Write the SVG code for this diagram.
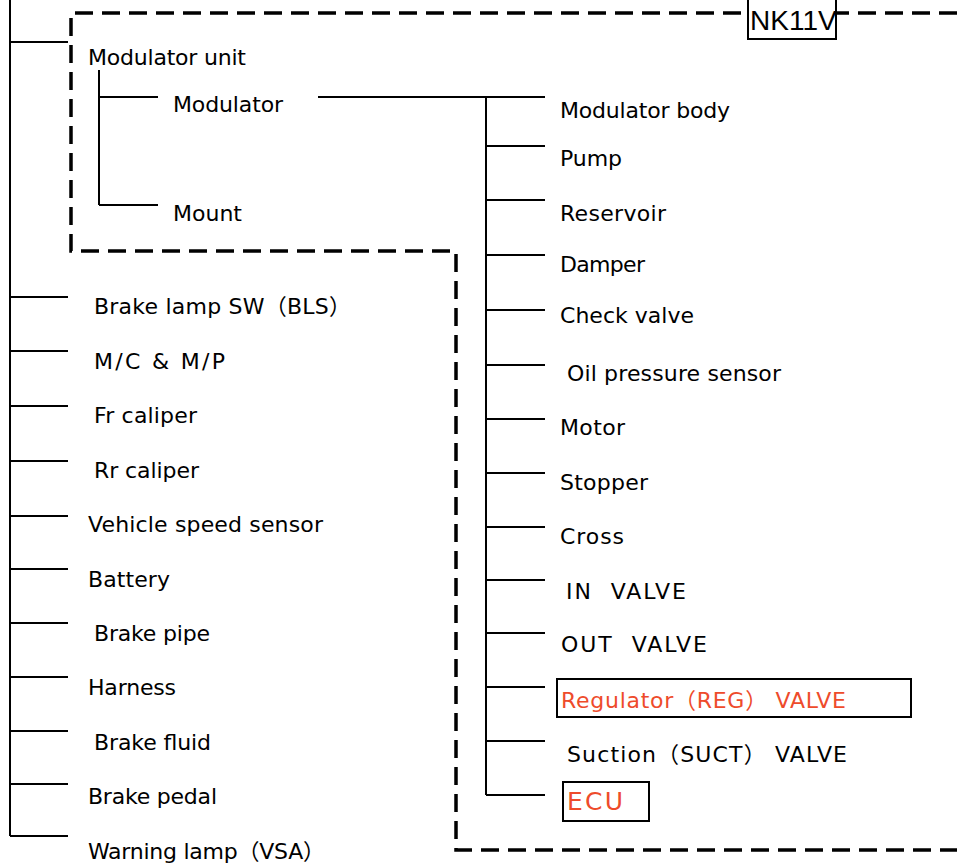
<svg xmlns="http://www.w3.org/2000/svg" width="957" height="865" viewBox="0 0 957 865">
<style>
.t{font-family:"DejaVu Sans","Noto Sans CJK JP",sans-serif;font-size:22px;fill:#000}
.red{fill:#EE4B2B}
.ln{stroke:#000;stroke-width:2;fill:none}
.dash{stroke:#000;stroke-width:3.5;fill:none;stroke-dasharray:18 9}
.box{stroke:#000;stroke-width:2;fill:#fff}
</style>
<rect width="957" height="865" fill="#fff"/>
<g id="boundary">
<path class="dash" d="M957,13 H71 V251 H456 V850 H957"/>
</g>
<g id="nk11v">
<rect class="box" x="748" y="-2" width="88" height="41"/>
<text x="750" y="30" style="font-family:'Liberation Sans',sans-serif;font-size:28px">NK11V</text>
</g>
<g id="connectors">
<path class="ln" d="M10,0 V836"/>
<path class="ln" d="M10,42 H68"/>
<path class="ln" d="M10,297 H68 M10,351 H68 M10,406 H68 M10,461 H68 M10,516 H68 M10,569 H68 M10,623 H68 M10,677 H68 M10,731 H68 M10,784 H68 M10,836 H68"/>
<path class="ln" d="M99,70 V205 M99,97 H158 M99,205 H158"/>
<path class="ln" d="M318,97 H545 M486,97 V795"/>
<path class="ln" d="M486,146 H545 M486,200 H545 M486,255 H545 M486,310 H545 M486,365 H545 M486,419 H545 M486,473 H545 M486,527 H545 M486,580 H545 M486,633 H545 M486,687 H545 M486,741 H545 M486,795 H545"/>
</g>
<g id="modulator-unit"><text class="t" x="88" y="65" textLength="158">Modulator unit</text></g>
<g id="modulator"><text class="t" x="173" y="112" textLength="110">Modulator</text></g>
<g id="mount"><text class="t" x="173" y="221" textLength="69">Mount</text></g>
<g id="modulator-body"><text class="t" x="560" y="118" textLength="170">Modulator body</text></g>
<g id="pump"><text class="t" x="560" y="166" textLength="62">Pump</text></g>
<g id="reservoir"><text class="t" x="560" y="221" textLength="106">Reservoir</text></g>
<g id="damper"><text class="t" x="560" y="272" textLength="85">Damper</text></g>
<g id="check-valve"><text class="t" x="560" y="323" textLength="134">Check valve</text></g>
<g id="oil-pressure-sensor"><text class="t" x="567" y="381" textLength="214">Oil pressure sensor</text></g>
<g id="motor"><text class="t" x="560" y="435" textLength="65">Motor</text></g>
<g id="stopper"><text class="t" x="560" y="490" textLength="88">Stopper</text></g>
<g id="cross"><text class="t" x="560" y="544" textLength="64">Cross</text></g>
<g id="in-valve"><text class="t" x="566" y="599" textLength="120" xml:space="preserve">IN  VALVE</text></g>
<g id="out-valve"><text class="t" x="561" y="652" textLength="146" xml:space="preserve">OUT  VALVE</text></g>
<g id="reg-valve">
<rect class="box" x="557" y="679" width="354" height="38"/>
<text class="t red" x="561" y="708" textLength="285" xml:space="preserve">Regulator（REG） VALVE</text>
</g>
<g id="suct-valve"><text class="t" x="567" y="762" textLength="280" xml:space="preserve">Suction（SUCT） VALVE</text></g>
<g id="ecu">
<rect class="box" x="563" y="782" width="86" height="39"/>
<text class="t red" x="567" y="810" style="font-size:25px" textLength="56">ECU</text>
</g>
<g id="bls"><text class="t" x="94" y="314" textLength="257">Brake lamp SW（BLS）</text></g>
<g id="mc-mp"><text class="t" x="94" y="369" textLength="131">M/C &amp; M/P</text></g>
<g id="fr-caliper"><text class="t" x="94" y="423" textLength="103">Fr caliper</text></g>
<g id="rr-caliper"><text class="t" x="94" y="478" textLength="105">Rr caliper</text></g>
<g id="speed-sensor"><text class="t" x="88" y="532" textLength="235">Vehicle speed sensor</text></g>
<g id="battery"><text class="t" x="88" y="587" textLength="82">Battery</text></g>
<g id="brake-pipe"><text class="t" x="94" y="641" textLength="116">Brake pipe</text></g>
<g id="harness"><text class="t" x="88" y="695" textLength="88">Harness</text></g>
<g id="brake-fluid"><text class="t" x="94" y="750" textLength="117">Brake fluid</text></g>
<g id="brake-pedal"><text class="t" x="88" y="804" textLength="129">Brake pedal</text></g>
<g id="warning-lamp"><text class="t" x="88" y="859" textLength="237">Warning lamp（VSA）</text></g>
</svg>
